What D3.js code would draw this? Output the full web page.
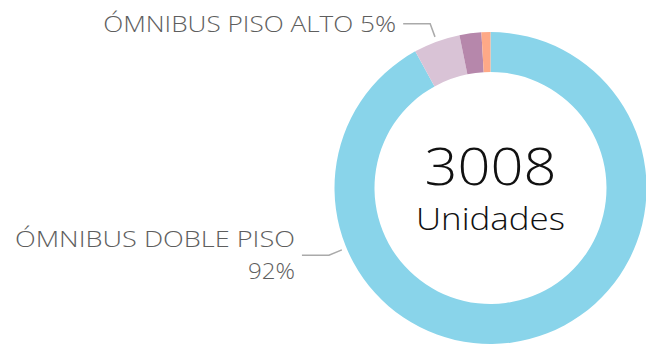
<!DOCTYPE html>
<html>
<head>
<meta charset="utf-8">
<script src="https://cdn.jsdelivr.net/npm/d3@7"></script>
<style>
  html, body { margin: 0; padding: 0; background: #fff; }
  svg { display: block; }
</style>
</head>
<body>
<svg id="chart" width="646" height="344"></svg>
<script>
// Fleet composition by bus type
const categories = ["ÓMNIBUS DOBLE PISO", "ÓMNIBUS PISO ALTO", "ÓMNIBUS PISO BAJO", "OTROS"];
const units = [2767, 145, 68, 28];
const colors = ["#89d4ea", "#d9c3d6", "#b687ab", "#fea987"];
const totalLabel = "Unidades";

const width = 646, height = 344;
const cx = 490.5, cy = 188;
const outerR = 156, innerR = 116;
const labelFont = "'Open Sans', 'Noto Sans', sans-serif";

const svg = d3.select("#chart");
const total = d3.sum(units);
const data = categories.map((c, i) => ({ name: c, value: units[i], color: colors[i] }));

const pie = d3.pie().value(d => d.value).sort(null).startAngle(0);
const arcs = pie(data);
const arc = d3.arc().innerRadius(innerR).outerRadius(outerR);

const g = svg.append("g").attr("transform", `translate(${cx},${cy})`);
g.selectAll("path.slice")
  .data(arcs)
  .join("path")
  .attr("class", "slice")
  .attr("d", arc)
  .attr("fill", d => d.data.color);

// Widen glyphs to a given advance (wide geometric lettering)
function spread(sel, w) {
  sel.attr("textLength", w).attr("lengthAdjust", "spacingAndGlyphs");
}

// Centre totals
g.append("text")
  .attr("text-anchor", "middle")
  .attr("y", -3)
  .attr("font-family", labelFont)
  .attr("font-weight", 300)
  .attr("font-size", 52)
  .attr("fill", "#111")
  .text(total)
  .call(spread, 132);
g.append("text")
  .attr("text-anchor", "middle")
  .attr("y", 42)
  .attr("font-family", labelFont)
  .attr("font-weight", 300)
  .attr("font-size", 31)
  .attr("fill", "#111")
  .text(totalLabel)
  .call(spread, 149);

// Outside labels with elbow leader lines
const pct = v => Math.round(v / total * 100) + "%";
const polar = (a, r) => [Math.sin(a) * r, -Math.cos(a) * r];
const labelSpecs = [
  { index: 1, angle: null, lines: d => [d.data.name + " " + pct(d.value)], widths: [293] },
  { index: 0, angle: 247.4 * Math.PI / 180, lines: d => [d.data.name, pct(d.value)], widths: [280, 47] }
];
const lineHeight = 32, hLen = 27, gap = 7;

labelSpecs.forEach(spec => {
  const d = arcs[spec.index];
  const a = spec.angle != null ? spec.angle : (d.startAngle + d.endAngle) / 2;
  const p1 = polar(a, outerR + 5);
  const p2 = polar(a, outerR + 19);
  const p3 = [p2[0] - hLen, p2[1]];
  g.append("polyline")
    .attr("points", [p1, p2, p3].map(p => p.join(",")).join(" "))
    .attr("fill", "none")
    .attr("stroke", "#aaaaaa")
    .attr("stroke-width", 1.5);
  const lines = spec.lines(d);
  const t = g.append("text")
    .attr("text-anchor", "end")
    .attr("font-family", labelFont)
    .attr("font-weight", 300)
    .attr("font-size", 22)
    .attr("fill", "#5e5e5e");
  const y0 = p3[1] + 8 - (lines.length - 1) * lineHeight / 2;
  lines.forEach((ln, i) => {
    t.append("tspan")
      .attr("x", p3[0] - gap)
      .attr("y", y0 + i * lineHeight)
      .text(ln)
      .call(spread, spec.widths[i]);
  });
});
</script>
</body>
</html>
